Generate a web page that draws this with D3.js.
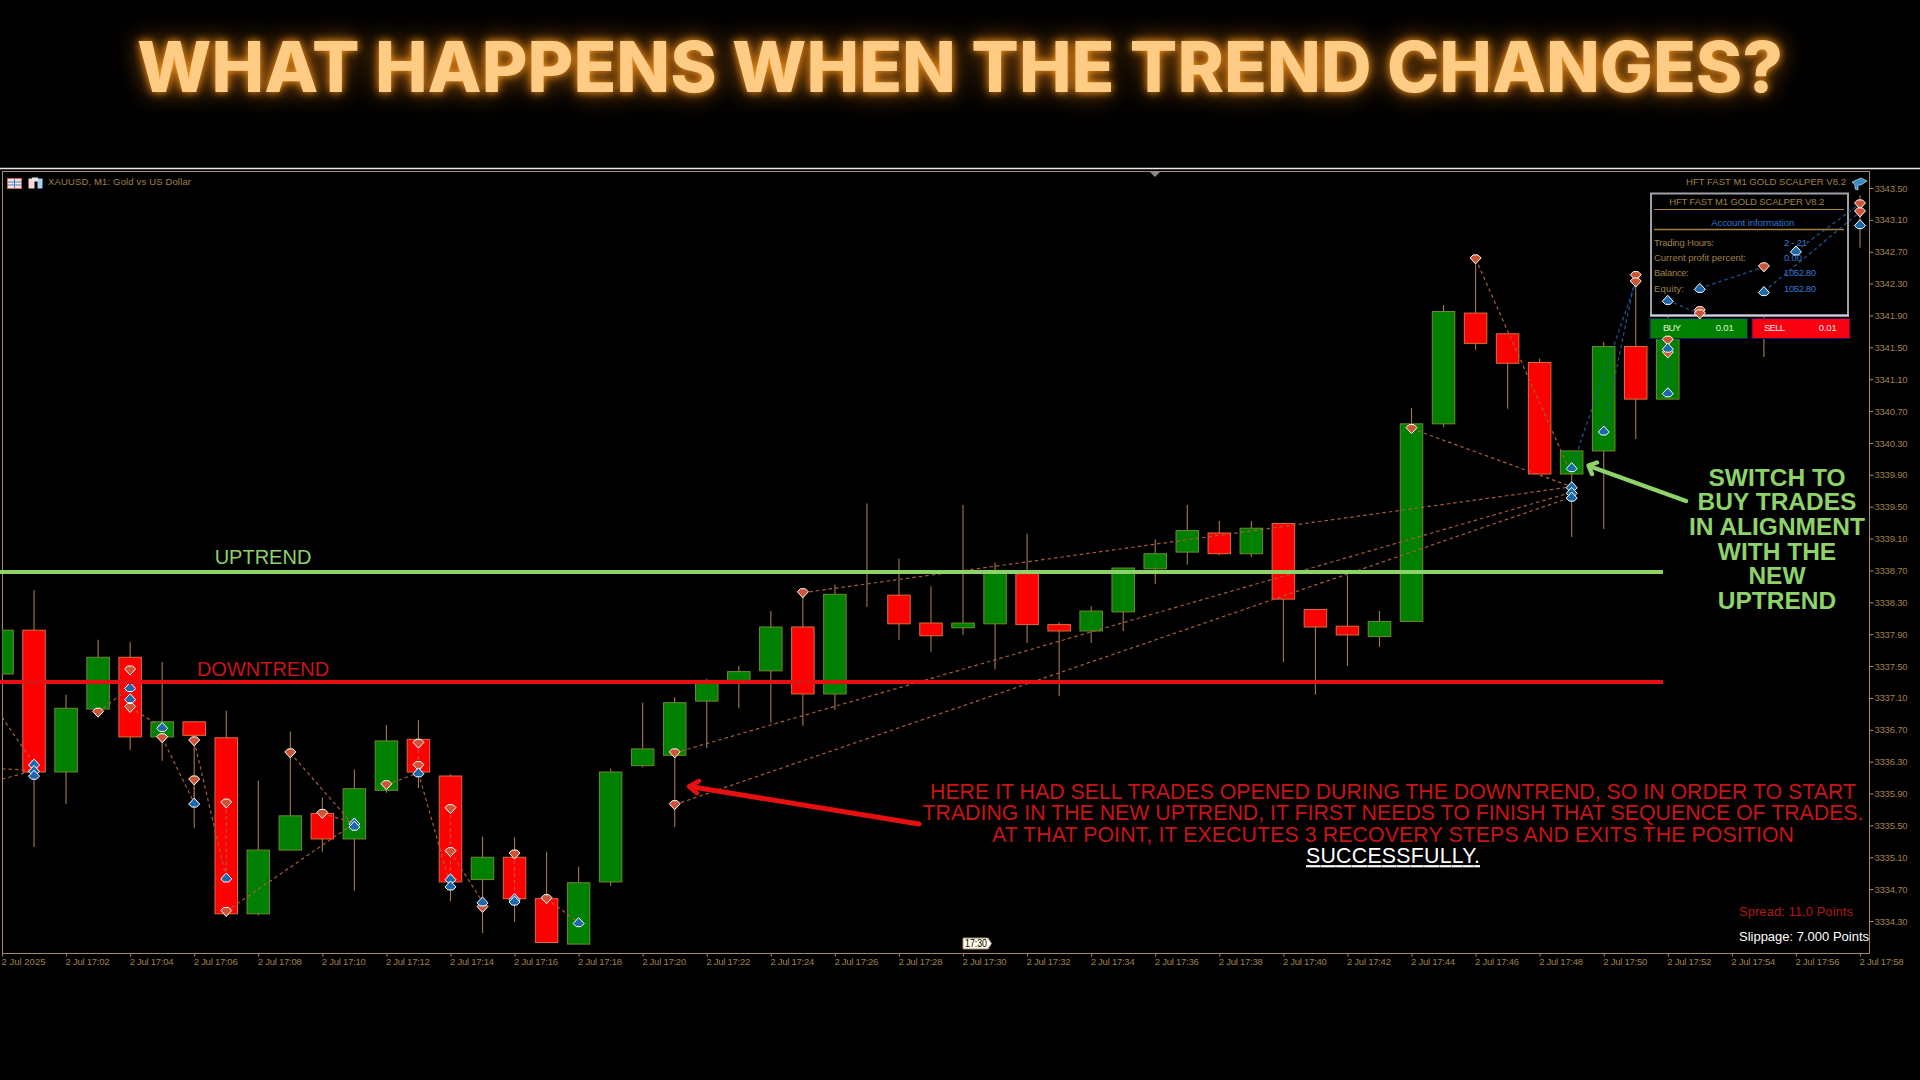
<!DOCTYPE html>
<html><head><meta charset="utf-8">
<script src="https://cdn.jsdelivr.net/npm/d3@7"></script>
<style>
html,body{margin:0;padding:0;background:#000;overflow:hidden}
svg{display:block}
text{font-family:"Liberation Sans",Arial,sans-serif}
</style></head><body><svg id="c" width="1920" height="1080"></svg>
<script>
// ---- candle data: minute index from 17:00, prices
const minutes=[0,1,2,3,4,5,6,7,8,9,10,11,12,13,14,15,16,17,18,19,20,21,22,23,24,25,26,27,28,29,30,31,32,33,34,35,36,37,38,39,40,41,42,43,44,45,46,47,48,49,50,51,52,55,58];
const opens =[3337.40,3337.95,3336.17,3336.96,3337.61,3336.61,3336.80,3336.60,3334.39,3335.19,3335.65,3335.33,3335.94,3336.58,3336.12,3334.82,3335.10,3334.58,3334.01,3334.79,3336.25,3336.38,3337.06,3337.30,3337.44,3337.99,3337.15,3338.39,3338.39,3338.04,3337.98,3338.03,3338.66,3338.02,3337.94,3338.18,3338.72,3338.93,3339.17,3338.91,3339.29,3338.21,3338.00,3337.87,3338.06,3340.54,3341.93,3341.67,3341.31,3339.91,3340.20,3341.51,3340.85,3342.09,3343.02];
const highs =[3337.95,3338.45,3337.14,3337.83,3337.80,3337.55,3336.80,3336.94,3336.06,3336.68,3335.85,3336.20,3336.76,3336.82,3336.14,3335.36,3335.35,3335.17,3334.98,3336.21,3337.04,3337.11,3337.34,3337.50,3338.19,3338.37,3338.52,3339.54,3338.85,3338.50,3339.52,3338.80,3339.16,3338.05,3338.25,3338.73,3339.09,3339.52,3339.32,3339.32,3339.30,3338.21,3338.64,3338.19,3340.74,3342.03,3342.57,3341.67,3341.36,3340.20,3341.57,3342.38,3342.09,3342.09,3343.41];
const lows  =[3337.40,3335.23,3335.77,3336.95,3336.45,3336.31,3335.47,3334.39,3334.37,3335.19,3335.17,3334.68,3335.91,3335.97,3334.55,3334.15,3334.29,3334.03,3334.01,3334.74,3336.23,3335.48,3336.47,3336.97,3336.79,3336.75,3336.95,3338.24,3337.83,3337.68,3337.89,3337.46,3337.79,3337.12,3337.79,3337.94,3338.53,3338.77,3338.89,3338.87,3337.55,3337.14,3337.50,3337.74,3338.06,3340.50,3341.47,3340.73,3339.91,3339.12,3339.22,3340.35,3340.85,3341.38,3342.75];
const closes=[3337.95,3336.17,3336.97,3337.61,3336.61,3336.80,3336.63,3334.39,3335.19,3335.62,3335.33,3335.96,3336.56,3336.17,3334.79,3335.10,3334.58,3334.03,3334.78,3336.17,3336.46,3337.04,3337.30,3337.43,3337.99,3337.15,3338.40,3338.39,3338.03,3337.88,3338.04,3338.70,3338.02,3337.94,3338.19,3338.73,3338.91,3339.20,3338.91,3339.23,3338.34,3337.99,3337.89,3338.06,3340.54,3341.95,3341.55,3341.30,3339.91,3340.20,3341.51,3340.85,3341.72,3342.09,3343.02];
// ---- trade arrows: minute, price, side
const sellMarkerMinutes=[3,4,4,5,6,6,7,7,9,10,12,13,13,14,14,15,16,17,21,21,25,44,46,51,51,52,52,53,53,55,58,58];
const sellMarkerPrices =[3336.92,3337.45,3336.98,3336.60,3336.56,3336.07,3335.78,3334.42,3336.41,3335.65,3336.01,3336.53,3336.25,3335.71,3335.17,3334.47,3335.14,3334.58,3336.41,3335.76,3338.42,3340.48,3342.61,3342.40,3342.32,3341.59,3341.43,3341.96,3341.92,3342.51,3343.30,3343.20];
const buyMarkerMinutes =[1,1,1,4,4,5,6,7,11,11,13,14,14,15,16,16,18,49,49,49,49,50,52,52,52,53,55,56,58];
const buyMarkerPrices  =[3336.27,3336.19,3336.13,3337.23,3337.09,3336.73,3335.78,3334.84,3335.53,3335.49,3336.16,3334.83,3334.74,3334.54,3334.58,3334.55,3334.28,3339.99,3339.75,3339.68,3339.62,3340.45,3341.49,3340.93,3342.09,3342.24,3342.20,3342.71,3343.04];
// ---- dashed trade lines: [minute, price, minute, price]
const sellLines=[[0,3336.86,1,3336.27],[0,3336.08,1,3336.19],[0,3336.21,1,3336.19],[3,3336.92,4,3337.23],[4,3336.98,5,3336.73],[5,3336.60,6,3335.78],[6,3336.56,7,3334.84],[6,3336.07,6,3335.78],[7,3335.78,7,3334.84],[7,3334.42,11,3335.53],[9,3336.41,11,3335.49],[10,3335.65,11,3335.53],[12,3336.01,13,3336.16],[13,3336.53,13,3336.16],[13,3336.16,14,3334.74],[14,3335.71,14,3334.83],[14,3335.17,15,3334.54],[16,3335.14,16,3334.58],[17,3334.58,18,3334.28],[21,3336.41,49,3339.68],[21,3335.76,49,3339.62],[25,3338.42,49,3339.75],[44,3340.48,49,3339.75],[46,3342.61,49,3339.90]];
const buyLines=[[49,3339.99,51,3342.32],[50,3340.45,51,3342.40],[52,3340.93,52,3341.49],[52,3342.09,53,3341.92],[53,3342.24,55,3342.51],[55,3342.20,58,3343.20],[56,3342.71,58,3343.30]];
// ---- axes
const priceTicks=d3.range(0,24).map(k=>(3343.5-k*0.4));
const timeTicks=d3.range(0,59,2);
const trendUp=3338.68, trendDown=3337.30;

const svg=d3.select('#c');
const x=d3.scaleLinear().domain([0,58]).range([2,1860]);
const y=d3.scaleLinear().domain([3343.5,3334.3]).range([188,921]);
const goldText='#a08048', frame='#a58a6a';

// title
svg.append('text').attr('x',960).attr('y',92).attr('text-anchor','middle')
 .attr('textLength',1646).attr('lengthAdjust','spacingAndGlyphs')
 .style('font-family','Inter').style('font-weight',800).style('font-size','70px').attr('fill','#ffcc86')
 .style('filter','drop-shadow(0 0 4px #ff9a1e) drop-shadow(0 0 12px rgba(255,140,20,.55))')
 .text('WHAT HAPPENS WHEN THE TREND CHANGES?');

// window frame
svg.append('line').attr('x1',0).attr('x2',1920).attr('y1',168.5).attr('y2',168.5).attr('stroke','#e8e8e8').attr('stroke-width',1.5);
svg.append('path').attr('d','M2.5,953.5V171.5H1869.5V953.5H2.5Z').attr('fill','none').attr('stroke',frame);
svg.append('path').attr('d','M1150,172h10l-5,5Z').attr('fill','#8a8a8a');

const defs=svg.append('defs');
defs.append('clipPath').attr('id','plot').append('rect').attr('x',2.5).attr('y',172).attr('width',1867).attr('height',781);
const plot=svg.append('g').attr('clip-path','url(#plot)');

// candles
const candles=minutes.map((m,k)=>({m,o:opens[k],h:highs[k],l:lows[k],c:closes[k]}));
const bw=22.5;
plot.selectAll('.w').data(candles).join('line').attr('x1',d=>x(d.m)).attr('x2',d=>x(d.m))
 .attr('y1',d=>y(d.h)).attr('y2',d=>y(d.l)).attr('stroke','#a07c50').attr('stroke-width',1.1);
plot.selectAll('.b').data(candles).join('rect')
 .attr('x',d=>x(d.m)-bw/2).attr('width',bw)
 .attr('y',d=>Math.min(y(d.o),y(d.c))).attr('height',d=>Math.abs(y(d.o)-y(d.c)))
 .attr('fill',d=>d.c>d.o?'#008000':d.c<d.o?'#ff0000':'none')
 .attr('stroke',d=>d.c>d.o?'#6f8a2a':d.c<d.o?'#d8703a':'#a07c50').attr('stroke-width',1);

// trade panel
const panel=svg.append('g');
panel.append('rect').attr('x',1651).attr('y',193.5).attr('width',197).attr('height',122).attr('fill','#000').attr('stroke','#a0a0a8').attr('stroke-width',2);
panel.append('line').attr('x1',1650).attr('x2',1849).attr('y1',315.5).attr('y2',315.5).attr('stroke','#d0d0e8').attr('stroke-width',2);
panel.append('line').attr('x1',1654).attr('x2',1844).attr('y1',209.5).attr('y2',209.5).attr('stroke','#a8803f');
panel.append('line').attr('x1',1654).attr('x2',1844).attr('y1',229.5).attr('y2',229.5).attr('stroke','#a8803f').attr('stroke-width',1.4);
const ptxt=(t,xx,yy,c,anchor,len)=>{const s=panel.append('text').attr('x',xx).attr('y',yy).attr('dy','.35em').attr('fill',c).attr('text-anchor',anchor||'start').style('font-size','9.5px').text(t); if(len)s.attr('textLength',len);return s;};
ptxt('HFT FAST M1 GOLD SCALPER V8.2',1746.7,201.7,goldText,'middle',155);
ptxt('Account information',1752.7,223,'#2f78d0','middle',83);
ptxt('Trading Hours:',1654,242.7,goldText,'start',60);
ptxt('Current profit percent:',1654,258,goldText,'start',92);
ptxt('Balance:',1654,273,goldText,'start',35);
ptxt('Equity:',1654,288.3,goldText,'start',30);
ptxt('2 - 21',1784,242.7,'#2f78d0','start',23);
ptxt('0.00',1784,258,'#2f78d0','start',18);
ptxt('1052.80',1784,273,'#2f78d0','start',32);
ptxt('1052.80',1784,288.3,'#2f78d0','start',32);
panel.append('rect').attr('x',1650).attr('y',318.5).attr('width',97.5).attr('height',20).attr('fill','#008000').attr('stroke','#14205c');
panel.append('rect').attr('x',1752).attr('y',318.5).attr('width',98).attr('height',20).attr('fill','#fb0010').attr('stroke','#20105c');
ptxt('BUY',1663,328,'#e4f0dc','start',18);ptxt('0.01',1715.7,328,'#e4f0dc','start',18);
ptxt('SELL',1764,328,'#ffe8e0','start',21);ptxt('0.01',1818.7,328,'#ffe8e0','start',18);

// trade lines + markers, drawn above the panel
const over=svg.append('g').attr('clip-path','url(#plot)');
const tl=(data,c)=>over.append('g').selectAll('line').data(data).join('line')
 .attr('x1',d=>x(d[0])).attr('y1',d=>y(d[1])).attr('x2',d=>x(d[2])).attr('y2',d=>y(d[3]))
 .attr('stroke',c).attr('stroke-width',1.2).attr('stroke-dasharray','3.5 3');
tl(sellLines,'#a85c3c');tl(buyLines,'#1f5a96');
const arrowPath='M-5.5,-1L-2.5,-4L2.5,-4L5.5,-1L0,5Z';
const mk=(ms,ps,fill,rot)=>over.append('g').selectAll('path').data(ms.map((m,k)=>[m,ps[k]])).join('path')
 .attr('d',arrowPath).attr('transform',d=>`translate(${x(d[0])},${y(d[1])}) rotate(${rot})`)
 .attr('fill',fill).attr('stroke','#fff').attr('stroke-width',1);
mk(sellMarkerMinutes,sellMarkerPrices,'#cf5436',0);
mk(buyMarkerMinutes,buyMarkerPrices,'#1c68ac',180);

// trend lines
const trend=(p,c)=>svg.append('line').attr('x1',0).attr('x2',1663).attr('y1',y(p)).attr('y2',y(p)).attr('stroke',c).attr('stroke-width',4);
trend(trendUp,'#8ed26a');trend(trendDown,'#e61010');
svg.append('text').attr('x',263).attr('y',564).attr('text-anchor','middle').attr('fill','#8ed26a').style('font-size','20px').text('UPTREND');
svg.append('text').attr('x',263).attr('y',676).attr('text-anchor','middle').attr('fill','#c81414').style('font-size','20px').text('DOWNTREND');

// axes
const yAxis=d3.axisRight(y).tickValues(priceTicks).tickSize(4).tickPadding(1).tickFormat(d3.format('.2f'));
const ga=svg.append('g').attr('transform','translate(1869.5,0)').call(yAxis);
const xAxis=d3.axisBottom(x).tickValues(timeTicks).tickSize(3).tickPadding(3).tickFormat(m=>m===0?'2 Jul 2025':`2 Jul 17:${String(m).padStart(2,'0')}`);
const gb=svg.append('g').attr('transform','translate(0,953.5)').call(xAxis);
[ga,gb].forEach(g=>{g.select('.domain').remove();g.selectAll('line').attr('stroke',frame);g.selectAll('text').attr('fill',goldText).style('font-size','9.5px').style('font-family','"Liberation Sans"');});
gb.selectAll('text').attr('text-anchor','start').attr('dx',-1).attr('dy','.6em');
ga.selectAll('text').attr('textLength',33);
gb.selectAll('text').attr('textLength',44);

// header
svg.append('text').attr('x',48).attr('y',182).attr('dy','.35em').attr('fill',goldText).style('font-size','9.5px').attr('textLength',143).text('XAUUSD, M1:  Gold vs US Dollar');
svg.append('text').attr('x',1686).attr('y',182).attr('dy','.35em').attr('fill',goldText).style('font-size','9.5px').attr('textLength',160).text('HFT FAST M1 GOLD SCALPER V8.2');
const ic=svg.append('g');
ic.append('rect').attr('x',7.5).attr('y',178.5).attr('width',14).attr('height',10).attr('fill','#fbe4e0').attr('stroke','#d06050');
ic.append('path').attr('d','M7.5,182h14M7.5,185h14M14.5,178.5v10').attr('stroke','#4080c0').attr('fill','none');
ic.append('rect').attr('x',28.5).attr('y',178.5).attr('width',6).attr('height',10).attr('fill','#fcd8d0');
ic.append('rect').attr('x',37.5).attr('y',178.5).attr('width',5).attr('height',10).attr('fill','#a8d0f0');
ic.append('rect').attr('x',32).attr('y',177.5).attr('width',6).attr('height',4).attr('fill','#e8e8e8');
svg.append('path').attr('d','M1852,182l9,-4l6,3l-6,4l-3,0v5l-3,-1v-4Z').attr('fill','#3a8ac8').attr('stroke','#dff').attr('stroke-width',.6);

// time pennant
svg.append('path').attr('d','M963,938H988L991.5,943.5L988,949H963Z').attr('fill','#fffbe8').attr('stroke','#a58a6a');
svg.append('text').attr('x',965).attr('y',943.7).attr('dy','.35em').attr('fill','#000').style('font-size','10px').attr('textLength',22).attr('lengthAdjust','spacingAndGlyphs').text('17:30');

// annotations
const redT=['HERE IT HAD SELL TRADES OPENED DURING THE DOWNTREND, SO IN ORDER TO START','TRADING IN THE NEW UPTREND, IT FIRST NEEDS TO FINISH THAT SEQUENCE OF TRADES.','AT THAT POINT, IT EXECUTES 3 RECOVERY STEPS AND EXITS THE POSITION'];
const redY=[791.5,812.5,834.5];
const redW=[926,941,802];
redT.forEach((t,k)=>svg.append('text').attr('x',1393).attr('y',redY[k]).attr('dy','.36em').attr('text-anchor','middle').attr('fill','#c81414').style('font-size','21.3px').attr('textLength',redW[k]).text(t));
svg.append('text').attr('x',1393).attr('y',855.5).attr('dy','.36em').attr('text-anchor','middle').attr('fill','#fff').style('font-size','21.3px').style('text-decoration','underline').attr('textLength',174).text('SUCCESSFULLY.');
const greenT=['SWITCH TO','BUY TRADES','IN ALIGNMENT','WITH THE','NEW','UPTREND'];
greenT.forEach((t,k)=>svg.append('text').attr('x',1777).attr('y',477+k*24.6).attr('dy','.36em').attr('text-anchor','middle').attr('fill','#8ed26a').style('font-size','24.5px').style('font-weight',700).text(t));
svg.append('text').attr('x',1739).attr('y',911).attr('dy','.35em').attr('fill','#b01818').style('font-size','13px').attr('textLength',114).text('Spread: 11.0 Points');
svg.append('text').attr('x',1739).attr('y',936.5).attr('dy','.35em').attr('fill','#fff').style('font-size','13px').attr('textLength',130).text('Slippage: 7.000 Points');
const arrow=(pts,c,w)=>svg.append('path').attr('d',d3.line()(pts)).attr('fill','none').attr('stroke',c).attr('stroke-width',w).attr('stroke-linejoin','round').attr('stroke-linecap','round');
arrow([[919,824],[690,786.5]],'#e61010',5);arrow([[699,781],[689,786.5],[697,793]],'#e61010',4.5);
arrow([[1686,501],[1589,466]],'#8ed26a',4.5);arrow([[1597,462.5],[1588.5,465.5],[1592,474]],'#8ed26a',4.5);
</script></body></html>
